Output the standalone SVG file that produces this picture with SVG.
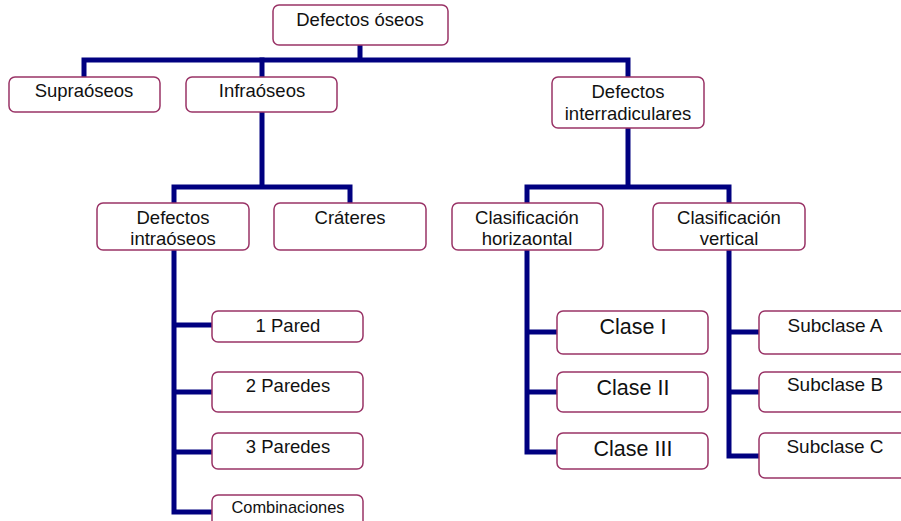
<svg xmlns="http://www.w3.org/2000/svg" width="901" height="521" viewBox="0 0 901 521">
<style>
.box{fill:#fff;stroke:#993366;stroke-width:1.5}
.t{font-family:"Liberation Sans",Arial,sans-serif;fill:#111;text-anchor:middle;font-size:18.5px}
.c{fill:none;stroke:#000080;stroke-width:5;stroke-linejoin:miter;stroke-linecap:square}
</style>
<rect width="901" height="521" fill="#fff"/>
<g id="connectors">
<path class="c" d="M360 45V60M84 77V60H628V77"/>
<path class="c" d="M262 60V77"/>
<path class="c" d="M262 112V187M174 203V187H350V203"/>
<path class="c" d="M628 128V187M527 203V187H729V203"/>
<path class="c" d="M174 250V512H212M174 325H212M174 392H212M174 452H212"/>
<path class="c" d="M527 250V452H557M527 332H557M527 392H557"/>
<path class="c" d="M729 250V456H759M729 332H759M729 392H759"/>
</g>
<g id="n-root"><rect class="box" x="273" y="5" width="175" height="40" rx="6"/><text class="t" x="360" y="26">Defectos óseos</text></g>
<g id="n-supra"><rect class="box" x="9" y="77" width="151" height="35" rx="6"/><text class="t" x="84" y="97">Supraóseos</text></g>
<g id="n-infra"><rect class="box" x="186" y="77" width="151" height="35" rx="6"/><text class="t" x="262" y="97">Infraóseos</text></g>
<g id="n-inter"><rect class="box" x="552" y="77" width="152" height="51" rx="6"/><text class="t" x="628" y="98">Defectos</text><text class="t" x="628" y="120">interradiculares</text></g>
<g id="n-intra"><rect class="box" x="97" y="203" width="152" height="47" rx="6"/><text class="t" x="173" y="224">Defectos</text><text class="t" x="173" y="245">intraóseos</text></g>
<g id="n-crat"><rect class="box" x="274" y="203" width="152" height="47" rx="6"/><text class="t" x="350" y="224">Cráteres</text></g>
<g id="n-ch"><rect class="box" x="452" y="203" width="151" height="47" rx="6"/><text class="t" x="527" y="224">Clasificación</text><text class="t" x="527" y="245">horizaontal</text></g>
<g id="n-cv"><rect class="box" x="653" y="203" width="152" height="47" rx="6"/><text class="t" x="729" y="224">Clasificación</text><text class="t" x="729" y="245">vertical</text></g>
<g id="n-p1"><rect class="box" x="212" y="311" width="151" height="31" rx="6"/><text class="t" x="288" y="332">1 Pared</text></g>
<g id="n-p2"><rect class="box" x="212" y="372" width="151" height="40" rx="6"/><text class="t" x="288" y="392">2 Paredes</text></g>
<g id="n-p3"><rect class="box" x="212" y="433" width="151" height="36" rx="6"/><text class="t" x="288" y="453">3 Paredes</text></g>
<g id="n-comb"><rect class="box" x="212" y="495" width="151" height="40" rx="6"/><text class="t" x="288" y="513" style="font-size:16.4px">Combinaciones</text></g>
<g id="n-c1"><rect class="box" x="557" y="311" width="151" height="43" rx="6"/><text class="t" x="633" y="334" style="font-size:21.5px">Clase I</text></g>
<g id="n-c2"><rect class="box" x="557" y="372" width="151" height="40" rx="6"/><text class="t" x="633" y="395" style="font-size:21.5px">Clase II</text></g>
<g id="n-c3"><rect class="box" x="557" y="433" width="151" height="36" rx="6"/><text class="t" x="633" y="456" style="font-size:21.5px">Clase III</text></g>
<g id="n-sa"><rect class="box" x="759" y="311" width="152" height="43" rx="6"/><text class="t" x="835" y="332" style="font-size:19px">Subclase A</text></g>
<g id="n-sb"><rect class="box" x="759" y="372" width="152" height="40" rx="6"/><text class="t" x="835" y="391" style="font-size:19px">Subclase B</text></g>
<g id="n-sc"><rect class="box" x="759" y="433" width="152" height="45" rx="6"/><text class="t" x="835" y="453" style="font-size:19px">Subclase C</text></g>
</svg>
